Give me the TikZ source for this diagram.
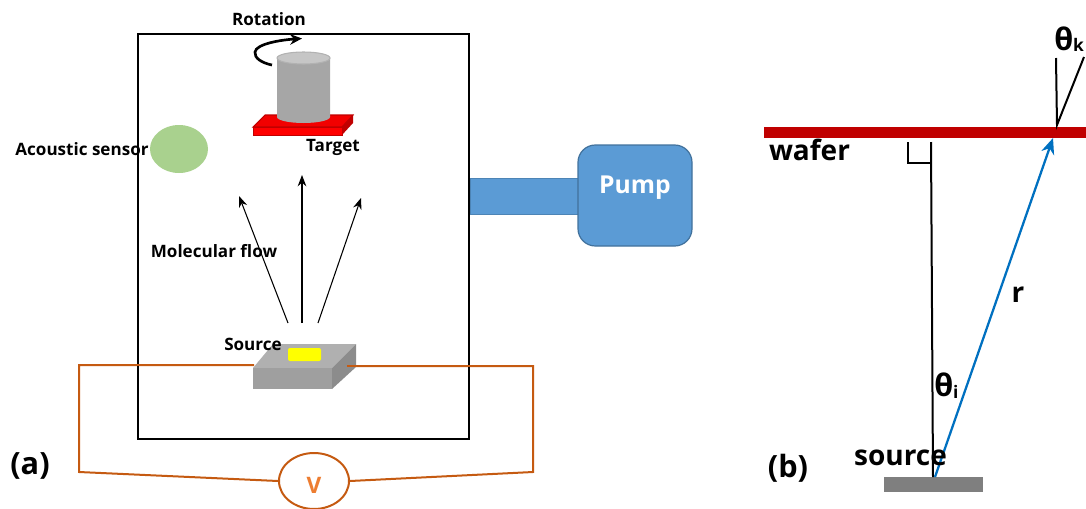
\documentclass[tikz,border=0pt]{standalone}
\usepackage{fontspec}
\setmainfont{Open Sans}
\usetikzlibrary{arrows.meta,shapes.geometric}
\definecolor{wire}{HTML}{C55A11}
\definecolor{vtext}{HTML}{ED7D31}
\definecolor{pumpblue}{HTML}{5B9BD5}
\definecolor{pumpedge}{HTML}{41719C}
\definecolor{wafercol}{HTML}{C00000}
\definecolor{raycol}{HTML}{0070C0}
\definecolor{sensorfill}{HTML}{A9D18E}
\definecolor{srcgray}{HTML}{7F7F7F}
\definecolor{puremark}{rgb}{1,1,0}
\tikzset{
  lbl/.style={font=\bfseries\fontsize{12.8}{15}\selectfont,inner sep=0pt,text=black},
  biglbl/.style={font=\bfseries\fontsize{23}{26}\selectfont,inner sep=0pt,text=black},
  medlbl/.style={font=\bfseries\fontsize{21}{24}\selectfont,inner sep=0pt,text=black},
  thetalbl/.style={font=\bfseries\fontsize{23}{26}\selectfont,inner sep=0pt,anchor=base west},
  flow/.style={black,line width=0.8pt,-{Stealth[length=8.5pt,width=6.5pt]}},
  wireline/.style={wire,line width=1.5pt},
  blk/.style={black,line width=1.5pt},
}
\begin{document}
\begin{tikzpicture}[x=0.75pt,y=-0.75pt]
\useasboundingbox (0,0) rectangle (1086,508);
\clip (0,0) rectangle (1086,508);
% pump tube and pump
\node[draw=pumpblue!85!black,fill=pumpblue,minimum width=81pt,minimum height=27pt,inner sep=0pt,line width=0.5pt] (tube) at (524,196) {};
\node[draw=pumpedge,fill=pumpblue,rounded corners=13pt,minimum width=85.5pt,minimum height=75.75pt,inner sep=0pt,line width=0.9pt] (pump) at (635,195.5) {};
\node[font=\bfseries\fontsize{18.5}{21}\selectfont,text=white,inner sep=0pt] (pumptext) at (635,188) {Pump};
% wires
\coordinate (wl) at (254,365);
\coordinate (wlc) at (79,365);
\coordinate (wlb) at (79,472);
\coordinate (wr) at (347,366);
\coordinate (wrc) at (533,366);
\coordinate (wrb) at (533,472);
\node[draw=wire,fill=white,ellipse,minimum width=52.5pt,minimum height=42pt,inner sep=0pt,line width=1.5pt] (volt) at (314,481) {};
\node[font=\bfseries\fontsize{17}{19}\selectfont,text=vtext,inner sep=0pt] (vt) at (314,485) {V};
\draw[wireline] (wr) -- (wrc) -- (wrb) -- (volt.east);
\draw[wireline] (wl) -- (wlc) -- (wlb) -- (volt.west);
% chamber
\node[draw=black,line width=1.5pt,minimum width=248.25pt,minimum height=303.75pt,inner sep=0pt] (chamber) at (303.5,236.5) {};
\draw[wireline] (wr) -- (wrc);
\draw[wireline] (wl) -- (wlc);
% target plate
\fill[red!95!black] (265,115) -- (353,115) -- (342,127) -- (253,127) -- cycle;
\draw[wafercol,line width=0.8pt] (265,115) -- (353,115) -- (342,127) -- (253,127) -- cycle;
\fill[red] (253,127) rectangle (342,135);
\draw[wafercol,line width=0.5pt] (253,127) rectangle (342,135);
\fill[wafercol] (342,127) -- (353,115) -- (353,123) -- (342,135) -- cycle;
% cylinder
\fill[gray!70] (277,58) -- (277,117) arc[start angle=180,end angle=0,x radius=26.5,y radius=6] -- (330,58) -- cycle;
\fill[gray!45,draw=gray!60,line width=0.8pt] (303.5,58) ellipse[x radius=26.5,y radius=6];
% rotation arrow
\coordinate (rs) at (272,65);
\coordinate (re) at (302,38.5);
\draw[black,line width=2pt,-{Stealth[length=9pt,width=8pt]}] (rs) .. controls (262,63) and (254,58) .. (255,52) .. controls (256,44) and (280,40) .. (re);
% sensor
\node[ellipse,fill=sensorfill,minimum width=43.5pt,minimum height=36pt,inner sep=0pt] (sensor) at (179,149) {};
% flow arrows
\coordinate (f0) at (288,323);
\coordinate (f1) at (302,323);
\coordinate (f2) at (318,323);
\coordinate (t0) at (239,196);
\coordinate (t1) at (302,175);
\coordinate (t2) at (361,198);
\draw[flow] (f0) -- (t0);
\draw[flow] (f1) -- (t1);
\draw[flow] (f2) -- (t2);
% source box
\fill[gray!62] (253,368) -- (273,344) -- (356,344) -- (332,368) -- cycle;
\fill[gray!75] (253,368) rectangle (332,389);
\fill[gray!90] (332,368) -- (356,344) -- (356,367) -- (332,389) -- cycle;
\fill[puremark,rounded corners=1.5pt] (288,348) rectangle (321,361);
\draw[wireline] (wr) -- (356,366);
% labels a
\node[lbl] (rotl) at (269,19) {Rotation};
\node[lbl] (tarl) at (333,147) {Target};
\node[lbl] (acl) at (82,149) {Acoustic sensor};
\node[lbl] (mol) at (214,251) {Molecular flow};
\node[lbl] (srcl) at (253,344) {Source};
\node[biglbl] (pa) at (30,466) {(a)};
% panel b
\node[fill=wafercol,minimum width=241.5pt,minimum height=8.25pt,inner sep=0pt] (wafer) at (925,132.5) {};
\node[fill=srcgray,minimum width=74.25pt,minimum height=11.25pt,inner sep=0pt] (srcbar) at (933.5,484.5) {};
\coordinate (n0) at (931,142);
\coordinate (n1) at (933,477);
\coordinate (ra) at (908,142);
\coordinate (rb) at (908,162.5);
\coordinate (rc) at (931,162.5);
\draw[blk] (n0) -- (n1);
\draw[blk] (ra) -- (rb) -- (rc);
\coordinate (r0) at (935,477);
\coordinate (r1) at (1053,138);
\draw[raycol,line width=1.7pt,-{Stealth[length=12pt,width=10pt]}] (r0) -- (r1);
\coordinate (k0) at (1057,125);
\coordinate (k1) at (1056,58);
\coordinate (k2) at (1084,57);
\draw[blk] (k1) -- (k0) -- (k2);
\node[medlbl] (wl2) at (809.5,150) {wafer};
\node[medlbl] (sl2) at (900.5,458) {source};
\node[biglbl] (pb) at (788,468) {(b)};
\node[medlbl] (rl) at (1018,295) {r};
\node[thetalbl] (thi) at (934,396) {θ\raisebox{-2pt}{\fontsize{13}{14}\selectfont i}};
\node[thetalbl] (thk) at (1054,50) {θ\raisebox{-1pt}{\fontsize{13}{14}\selectfont k}};
\end{tikzpicture}
\end{document}
